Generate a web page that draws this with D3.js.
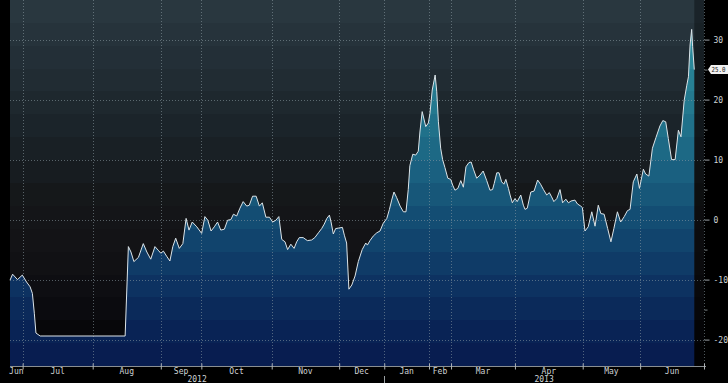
<!DOCTYPE html>
<html><head><meta charset="utf-8">
<script src="https://cdn.jsdelivr.net/npm/d3@7"></script>
<style>html,body{margin:0;padding:0;background:#000;overflow:hidden}</style>
</head><body><svg id="c" width="728" height="383"></svg>
<script>
// observation index (trading-session position) of each sample
const obsIndex = [
  0,0.8,2.3,3.8,5.1,6.2,6.9,7.5,8.0,9.3,35.5,
  36.5,37.3,38.2,39.6,41.1,42.2,43.4,44.7,45.7,46.5,
  47.3,48.3,49.3,50.2,51.1,52.2,53.3,54.3,55.2,56.2,
  57.6,59.1,60.1,61.0,62.0,63.0,64.0,65.0,66.1,67.1,
  68.1,68.9,69.9,70.9,71.9,73.0,73.8,74.8,75.9,76.9,
  77.8,78.9,80.0,81.0,82.0,82.9,83.8,84.8,85.6,86.6,
  87.6,88.4,89.2,90.4,91.7,93.0,94.0,95.1,96.1,96.9,
  97.7,98.5,99.0,99.7,100.4,101.4,102.5,103.1,103.8,104.5,
  105.4,106.4,107.4,108.6,109.7,110.2,111.0,112.0,113.1,114.1,
  115.1,116.2,117.0,117.7,118.4,119.2,120.3,121.3,122.1,122.8,
  123.3,124.2,125.1,125.9,126.4,127.1,128.2,129.0,129.5,130.2,
  131.1,131.6,132.1,132.8,133.4,134.1,135.0,135.9,136.5,137.2,
  138.1,139.0,139.8,140.6,141.5,142.2,142.9,143.9,144.9,145.9,
  147.0,148.0,148.8,149.3,150.1,150.8,151.6,152.3,152.9,153.7,
  154.2,154.9,155.7,156.4,157.5,158.3,158.8,159.5,160.6,161.6,
  162.7,163.6,164.5,165.5,166.3,167.0,167.7,168.6,169.6,170.4,
  171.4,172.2,173.0,174.2,175.0,176.0,176.5,177.3,178.3,179.4,
  180.4,181.4,182.2,183.2,184.3,185.3,186.2,187.3,188.3,189.4,
  190.4,191.2,192.2,193.3,194.1,195.3,196.0,197.0,198.1,199.2,
  200.4,201.3,202.2,203.0,204.0,205.1,206.1,206.9,207.9,208.7,
  209.2,209.7,210.2,210.5,211.0
];
const values = [
  -10.1,-9.1,-10.0,-9.25,-10.4,-11.2,-12.3,-15.6,-18.9,-19.4,-19.4,
  -4.5,-5.4,-7.0,-6.3,-4.0,-5.4,-6.6,-4.5,-5.1,-5.6,
  -5.25,-6.1,-6.9,-4.5,-3.1,-4.8,-4.0,0.2,-1.75,-0.4,
  -1.2,-2.3,0.5,-0.1,-1.9,-1.2,-0.4,-1.75,-1.6,-0.1,
  0,0.9,0.6,1.9,3.0,2.25,2.4,3.9,3.9,2.25,
  2.8,0.4,0.4,-0.4,-0.1,0.5,-3.3,-3.7,-5.0,-4.1,
  -4.8,-3.7,-3.0,-3.0,-3.5,-3.4,-3.0,-2.2,-1.5,-0.75,
  0.2,0.75,-0.4,-2.4,-1.5,-1.4,-1.3,-2.6,-3.9,-11.6,
  -10.9,-9.4,-7.0,-5.0,-3.9,-4.25,-3.5,-2.75,-2.2,-1.9,
  -0.6,0.2,1.7,3.25,4.6,3.7,2.25,1.3,1.3,5.0,
  9.0,10.9,10.75,11.4,14.6,18.0,15.5,16.1,17.7,21.6,
  24.1,21.3,16.3,11.9,10.0,8.7,6.9,6.7,5.75,4.9,
  5.2,6.5,5.4,8.8,9.5,9.6,8.4,6.9,7.4,8.1,
  6.5,4.9,5.0,6.0,7.8,7.8,6.3,5.9,6.7,5.2,
  4.1,2.8,3.5,3.0,4.1,2.4,1.7,1.9,4.6,4.75,
  6.6,5.9,5.0,4.1,4.5,3.8,3.0,3.5,5.0,2.8,
  3.4,2.8,3.1,3.25,2.6,2.25,2.0,-1.9,-1.2,1.3,
  -1.1,2.4,1.0,0.9,-1.5,-3.7,-1.5,1.3,-0.4,0.5,
  1.5,1.7,6.3,7.6,5.2,8.4,7.6,7.25,11.9,13.7,
  15.6,16.5,16.3,13.5,10.0,10.0,14.9,13.8,19.9,22.4,
  23.8,29.1,31.7,28.8,25.0
];
const monthLabels = ["Jun","Jul","Aug","Sep","Oct","Nov","Dec","Jan","Feb","Mar","Apr","May","Jun"];
const monthStarts = [0,3.9,25.5,46.5,59.0,80.7,101.5,115.4,129.2,136.0,155.7,176.6,194.3,214];
const yearLabels = ["2012","2013"];
const yearStarts = [0,115.4,214];
const yTicks = [-20,-10,0,10,20,30];
const yMinorTicks = [-15,-5,5,15,25];
const lastValue = values[values.length-1];

const data = d3.zip(obsIndex, values);
const svg = d3.select("#c");
const L = 10, R = 704, T = 0, B = 366;
const x = d3.scaleLinear().domain([0, 214]).range([L, R]);
const y = d3.scaleLinear().domain([-24.4, 36.6]).range([B, T]);

const defs = svg.append("defs");
function banded(id, stops, nb) {
  const c = d3.scaleLinear().domain(stops.map(s=>s[0])).range(stops.map(s=>s[1])).interpolate(d3.interpolateRgb);
  const g = defs.append("linearGradient").attr("id", id).attr("gradientUnits","userSpaceOnUse")
    .attr("x1",0).attr("y1",T).attr("x2",0).attr("y2",B);
  for (let i=0;i<nb;i++){
    const col = c((i+0.5)/nb*(B-T)+T);
    g.append("stop").attr("offset", i/nb).attr("stop-color", col);
    g.append("stop").attr("offset", (i+1)/nb).attr("stop-color", col);
  }
}
banded("bg", [[0,"#2a3941"],[60,"#232f37"],[130,"#1b2329"],[200,"#151719"],[250,"#121215"],[300,"#0d0d11"],[340,"#060608"],[366,"#020203"]], 16);
banded("fl", [[0,"#3aa3b3"],[60,"#2a8799"],[120,"#21738b"],[170,"#1a6180"],[220,"#134c72"],[270,"#0e3865"],[320,"#0a2657"],[366,"#081a4e"]], 16);

svg.append("rect").attr("x",0).attr("y",0).attr("width",728).attr("height",383).attr("fill","#000");
svg.append("rect").attr("x",L).attr("y",T).attr("width",R-L).attr("height",B-T).attr("fill","url(#bg)");
// darker strip after last observation
const xe = x(obsIndex[obsIndex.length-1]);
svg.append("rect").attr("x",xe).attr("y",T).attr("width",R-xe).attr("height",B-T).attr("fill","#000").attr("opacity",0.35);

const area = d3.area().x(d=>x(d[0])).y0(B).y1(d=>y(d[1]));
svg.append("path").datum(data).attr("d", area).attr("fill","url(#fl)");

// gridlines
const grid = svg.append("g").attr("stroke","#8e9ea6").attr("stroke-opacity",0.55).attr("stroke-dasharray","1,2").attr("stroke-width",1);
grid.selectAll("line.h").data(yTicks).join("line")
  .attr("x1",L).attr("x2",R).attr("y1",d=>Math.round(y(d))+0.5).attr("y2",d=>Math.round(y(d))+0.5);
grid.selectAll("line.v").data(monthStarts.slice(1)).join("line")
  .attr("x1",d=>Math.round(x(d))+0.5).attr("x2",d=>Math.round(x(d))+0.5).attr("y1",T).attr("y2",B);

const line = d3.line().x(d=>x(d[0])).y(d=>y(d[1]));
svg.append("path").datum(data).attr("d", line).attr("fill","none").attr("stroke","#dce4e8").attr("stroke-width",1).attr("stroke-linejoin","round");

const font = "'DejaVu Sans Mono', monospace";
const fs = "8px";
// right axis
const ra = svg.append("g").attr("transform",`translate(${R+0.5},0)`)
  .call(d3.axisRight(y).tickValues(yTicks).tickSize(5).tickPadding(4).tickFormat(d=>String(d)));
ra.select(".domain").remove();
ra.selectAll("line").attr("stroke","#9aa0a4");
ra.selectAll("text").attr("fill","#cfd3d6").attr("font-family",font).attr("font-size",fs);
const rm = svg.append("g").attr("transform",`translate(${R+0.5},0)`)
  .call(d3.axisRight(y).tickValues(yMinorTicks).tickSize(3).tickFormat(""));
rm.select(".domain").remove();
rm.selectAll("line").attr("stroke","#7a8084");

// bottom axis
const ba = svg.append("g").attr("transform",`translate(0,${B+0.5})`)
  .call(d3.axisBottom(x).tickValues(monthStarts.slice(1)).tickSize(3).tickFormat(""));
ba.select(".domain").attr("stroke","#8a8f92").attr("d",`M${L},0H${R+2}`);
ba.selectAll(".tick line").attr("stroke","#b0b4b6").attr("y1",-3);
svg.append("g").selectAll("text").data(monthLabels).join("text")
  .attr("x",(d,i)=>x((monthStarts[i]+monthStarts[i+1])/2))
  .attr("y",374).attr("text-anchor","middle")
  .attr("fill","#cfd3d6").attr("font-family",font).attr("font-size",fs).text(d=>d);
svg.append("g").selectAll("text").data(yearLabels).join("text")
  .attr("x",(d,i)=>x((yearStarts[i]+yearStarts[i+1])/2))
  .attr("y",382).attr("text-anchor","middle")
  .attr("fill","#cfd3d6").attr("font-family",font).attr("font-size",fs).text(d=>d);
svg.append("line").attr("x1",Math.round(x(yearStarts[1]))+0.5).attr("x2",Math.round(x(yearStarts[1]))+0.5)
  .attr("y1",B+10).attr("y2",383).attr("stroke","#9aa0a4");

// last value tag
const ty = y(lastValue);
svg.append("path").attr("d",`M${R+4},${ty}L${R+7},${ty-4.5}H728V${ty+4.5}H${R+7}Z`).attr("fill","#f2f2f2");
svg.append("text").attr("x",R+7.5).attr("y",ty+2.5).attr("fill","#222").attr("font-family",font).attr("font-size","7px")
  .attr("textLength",14).attr("lengthAdjust","spacingAndGlyphs").text(lastValue.toFixed(1));
</script></body></html>
